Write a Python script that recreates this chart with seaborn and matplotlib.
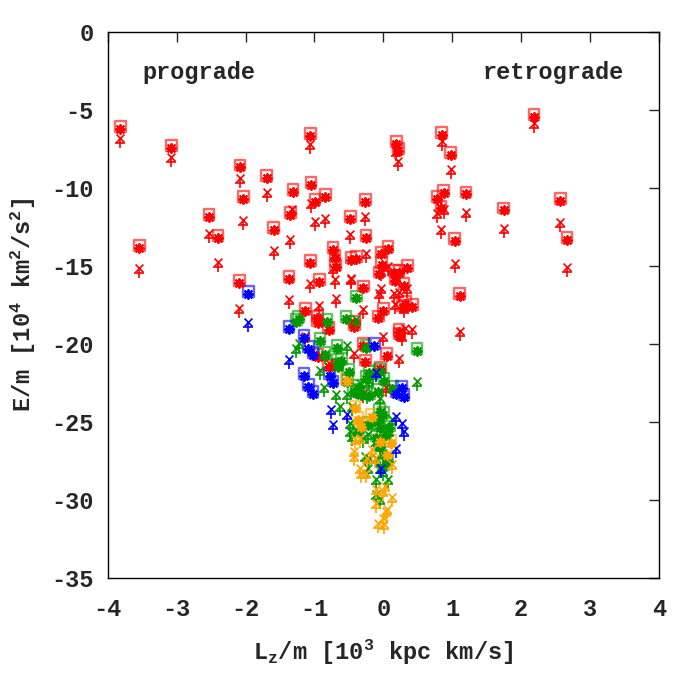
import numpy as np
import pandas as pd
import seaborn as sns
import matplotlib.pyplot as plt
from matplotlib.transforms import ScaledTranslation

# E/m vs Lz/m, two estimates per star: squares(+asterisk) and crosses(+plus)

red_sq_lz = [-3.82, -3.54, -3.08, -2.53, -2.40, -2.08, -2.03, -2.09, -1.69, -1.59,
             -1.31, -1.35, -1.37, -1.13, -1.06, -1.05, -0.99, -1.06, -0.93, -0.84,
             -0.73, -0.70, -0.69, -0.96, -0.95, -0.79, -0.48, -0.25, -0.26, -0.47,
             -0.39, -0.29, -0.42, -0.07, -0.06, -0.03, 0.19, 0.22, 0.85, 0.98,
             0.88, 0.78, 0.84, 1.20, 1.75, 1.04, 1.11, 2.19, 2.57, 2.67,
             0.07, -0.02, 0.16, 0.23, 0.17, 0.35, 0.30, 0.32, 0.42, 0.00,
             0.28, 0.23, 0.05, -0.42, 0.23, -0.29, -0.26, -0.95, -0.79, -0.04]
red_sq_e = [-6.13, -13.72, -7.35, -11.73, -13.08, -8.57, -10.60, -15.96, -9.23, -12.58,
            -10.13, -11.62, -15.72, -17.76, -6.56, -9.70, -10.77, -14.72, -15.90, -10.49,
            -13.87, -14.40, -14.98, -18.25, -18.57, -18.99, -11.88, -13.08, -10.81, -14.53,
            -14.44, -16.33, -18.57, -18.25, -15.43, -14.15, -7.07, -7.52, -6.49, -7.78,
            -10.19, -10.62, -11.20, -10.30, -11.33, -13.29, -16.79, -5.34, -10.71, -13.22,
            -13.80, -14.83, -15.32, -15.32, -15.83, -15.04, -16.17, -17.31, -17.54, -17.78,
            -17.56, -19.10, -20.66, -18.83, -19.36, -20.02, -21.07, -20.71, -21.39, -21.52]

red_x_lz = [-3.82, -3.54, -3.08, -2.53, -2.40, -2.08, -2.03, -2.09, -1.69, -1.59,
            -1.32, -1.35, -1.37, -1.06, -1.05, -0.99, -0.84, -1.06, -0.93, -0.70,
            -0.73, -0.68, -0.48, -0.26, -0.47, -0.25, -0.29, -0.06, -1.13, 0.19,
            0.21, 0.85, 0.98, 0.78, 0.88, 0.84, 1.20, 1.75, 1.04, 1.11,
            2.19, 2.57, 2.67, 0.07, -0.03, -0.03, 0.15, 0.23, 0.35, 0.17,
            0.30, 0.00, 0.31, 0.42, 0.27, -0.29, -0.03, 0.04, -0.47, -0.42,
            0.23, -0.79]
red_x_e = [-6.92, -15.26, -8.16, -13.01, -14.87, -9.53, -12.22, -17.87, -10.40, -14.15,
           -11.47, -13.44, -17.29, -7.35, -11.09, -12.26, -12.10, -16.22, -17.65, -16.01,
           -15.30, -17.18, -13.12, -11.94, -16.01, -14.34, -17.93, -16.86, -19.63, -7.78,
           -8.42, -7.13, -8.96, -11.73, -11.52, -12.76, -11.69, -12.69, -14.94, -19.31,
           -5.96, -12.33, -15.21, -15.15, -15.47, -16.54, -16.86, -16.79, -16.54, -17.61,
           -17.82, -19.63, -19.10, -19.21, -19.63, -23.27, -24.49, -22.90, -15.90, -20.71,
           -21.07, -21.39]

green_sq_lz = [-1.26, -0.92, -0.82, -0.54, -0.39, -0.67, -0.25, 0.49, -0.66, -0.61,
               -0.66, -0.50, -0.52, -0.37, -0.43, -0.39, -0.32, -0.20, -0.05, 0.01,
               0.13, -0.08, -0.20, -0.25, -0.05, 0.00, -0.08, -0.05, -0.10, -0.22,
               0.09, -0.05, -0.36, -0.85, 0.07, 0.00, 0.04, -1.23]
green_sq_e = [-18.46, -19.70, -18.46, -18.29, -16.97, -20.17, -20.17, -20.34, -21.03, -20.98,
              -21.35, -21.67, -22.31, -22.69, -22.95, -23.06, -23.16, -21.78, -21.67, -22.26,
              -22.76, -22.95, -23.21, -22.13, -24.23, -24.44, -24.87, -25.30, -25.94, -25.08,
              -25.30, -26.47, -25.51, -20.60, -27.44, -27.76, -25.70, -18.29]

green_x_lz = [-1.26, -0.92, -0.86, -0.68, -0.63, -0.46, -0.49, -0.49, -0.46, -0.29,
              -0.22, -0.10, -0.10, -0.05, 0.00, 0.07, -0.10, -0.10, -0.05, -0.22,
              0.09, 0.12, -0.53, -0.20, -0.15, -0.34, -0.24, -0.05, 0.49, -0.39,
              -0.53, -0.85, -0.04, -0.27, -0.20, 0.00, 0.05, -1.23]
green_x_e = [-20.38, -21.84, -22.90, -23.38, -24.12, -24.12, -25.19, -25.72, -26.04, -26.15,
             -25.94, -26.37, -27.44, -28.08, -28.29, -28.83, -28.83, -29.79, -30.11, -28.08,
             -25.72, -24.98, -23.38, -22.52, -22.10, -22.63, -23.38, -23.59, -22.52, -18.57,
             -20.24, -20.81, -26.69, -27.33, -27.44, -27.12, -27.44, -20.10]

blue_sq_lz = [-1.96, -1.37, -1.15, -1.09, -1.02, -0.13, -0.78, -0.73, 0.27, 0.19,
              0.30, -1.15, -1.09, -1.02]
blue_sq_e = [-16.71, -18.93, -19.53, -20.21, -20.60, -20.02, -21.94, -22.42, -22.74, -23.10,
             -23.29, -21.94, -22.63, -23.10]

blue_x_lz = [-1.96, -1.37, -0.76, -0.73, -0.53, 0.19, 0.27, 0.30, 0.19, -0.11, -0.03]
blue_x_e = [-18.75, -21.13, -24.34, -25.30, -24.62, -24.76, -25.19, -25.72, -26.79, -21.92, -28.08]

orange_sq_lz = [-0.41, -0.37, -0.17, -0.32, 0.11, 0.05, -0.05, -0.53]
orange_sq_e = [-24.02, -24.76, -24.55, -25.19, -26.22, -27.01, -26.15, -22.26]

orange_x_lz = [-0.41, -0.43, -0.43, -0.34, -0.32, -0.25, -0.17, -0.24, -0.12, 0.12,
               -0.10, 0.02, -0.10, 0.12, 0.04, 0.00, -0.08, 0.01, 0.06, 0.00, -0.34]
orange_x_e = [-26.26, -27.01, -27.33, -28.08, -28.40, -28.40, -26.90, -27.44, -27.44, -27.87,
              -29.47, -29.25, -30.32, -29.96, -30.85, -31.28, -31.60, -31.67, -30.75, -29.57, -26.15]

groups = [
    ('#ff0000', red_sq_lz, red_sq_e, red_x_lz, red_x_e),
    ('#009a00', green_sq_lz, green_sq_e, green_x_lz, green_x_e),
    ('#0000ff', blue_sq_lz, blue_sq_e, blue_x_lz, blue_x_e),
    ('#ffa500', orange_sq_lz, orange_sq_e, orange_x_lz, orange_x_e),
]

sns.set_style('white')
font = 'Liberation Mono'
plt.rcParams['font.family'] = [font, 'DejaVu Sans Mono']
plt.rcParams['font.weight'] = 'bold'
plt.rcParams['axes.unicode_minus'] = False
plt.rcParams['mathtext.fontset'] = 'custom'
plt.rcParams['mathtext.rm'] = font + ':bold'
plt.rcParams['mathtext.it'] = font + ':bold'
plt.rcParams['mathtext.bf'] = font + ':bold'

fig = plt.figure(figsize=(7, 7), dpi=100)
ax = fig.add_axes([0.154, 0.174, 0.787, 0.78])


def shifted(dy_px):
    # small vertical nudge (in pixels) so the paired symbols sit like gnuplot's
    return ax.transData + ScaledTranslation(0, dy_px / 100, fig.dpi_scale_trans)


for col, sq_lz, sq_e, x_lz, x_e in groups:
    sq = pd.DataFrame({'Lz': sq_lz, 'E': sq_e})
    cr = pd.DataFrame({'Lz': x_lz, 'E': x_e})
    sns.scatterplot(data=sq, x='Lz', y='E', marker='s', s=60, facecolor='none',
                    edgecolor=col, linewidth=1.7, alpha=0.6, ax=ax, zorder=2,
                    transform=shifted(1))
    sns.scatterplot(data=sq, x='Lz', y='E', marker=(8, 2, 0), s=42, color=col,
                    linewidth=1.4, ax=ax, zorder=3, transform=shifted(-1.5))
    sns.scatterplot(data=cr, x='Lz', y='E', marker='x', s=32, color=col,
                    linewidth=1.2, ax=ax, zorder=3, transform=shifted(2.5))
    sns.scatterplot(data=cr, x='Lz', y='E', marker='+', s=42, color=col,
                    linewidth=1.2, ax=ax, zorder=3, transform=shifted(-2.5))

ax.set_xlim(-4, 4)
ax.set_ylim(-35, 0)
ax.set_xticks(range(-4, 5))
ax.set_yticks(range(-35, 1, 5))
ax.tick_params(direction='in', length=7, width=1, top=True, right=True,
               labelsize=17, pad=10)
ax.tick_params(axis='x', pad=14)
for lab in ax.get_xticklabels() + ax.get_yticklabels():
    lab.set_fontweight('bold')
for sp in ax.spines.values():
    sp.set_color('black')
    sp.set_linewidth(1)

ax.set_xlabel('L$_z$/m [10$^3$ kpc km/s]', fontsize=17, fontweight='bold', labelpad=12)
ax.set_ylabel('E/m [10$^4$ km$^2$/s$^2$]', fontsize=17, fontweight='bold', labelpad=10)

ax.text(-3.5, -2.6, 'prograde', fontsize=17, fontweight='bold', ha='left', va='center')
ax.text(3.5, -2.6, 'retrograde', fontsize=17, fontweight='bold', ha='right', va='center')

fig.savefig('out.png', dpi=100)
